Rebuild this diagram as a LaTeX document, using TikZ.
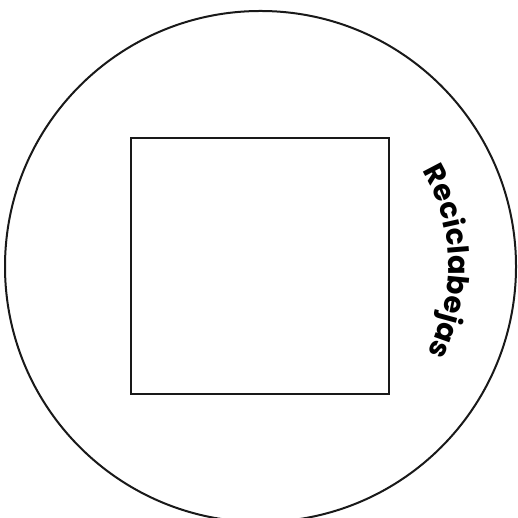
\documentclass[tikz,border=0pt]{standalone}
\usepackage{fontspec}
\newfontfamily\rotulo{Poppins}
\usetikzlibrary{decorations.text}
\tikzset{
  linea/.style={line width=2pt, draw=black!90},
}
\begin{document}
\begin{tikzpicture}[x=1pt,y=1pt]
\useasboundingbox (0,0) rectangle (517,518);
% plato y caja
\coordinate (centro) at (260.5,251.5);
\draw[linea] (centro) circle[radius=255.5];
\draw[linea] (131,380) rectangle (389,124);
% rotulo curvo
\path[decorate,decoration={text along path,text align=center,
  text={|\rotulo\bfseries\fontsize{29}{29}\selectfont|Reciclabejas}}]
  (centro) ++(41.5:188) arc[start angle=41.5,end angle=-38.5,radius=188];
\end{tikzpicture}
\end{document}
